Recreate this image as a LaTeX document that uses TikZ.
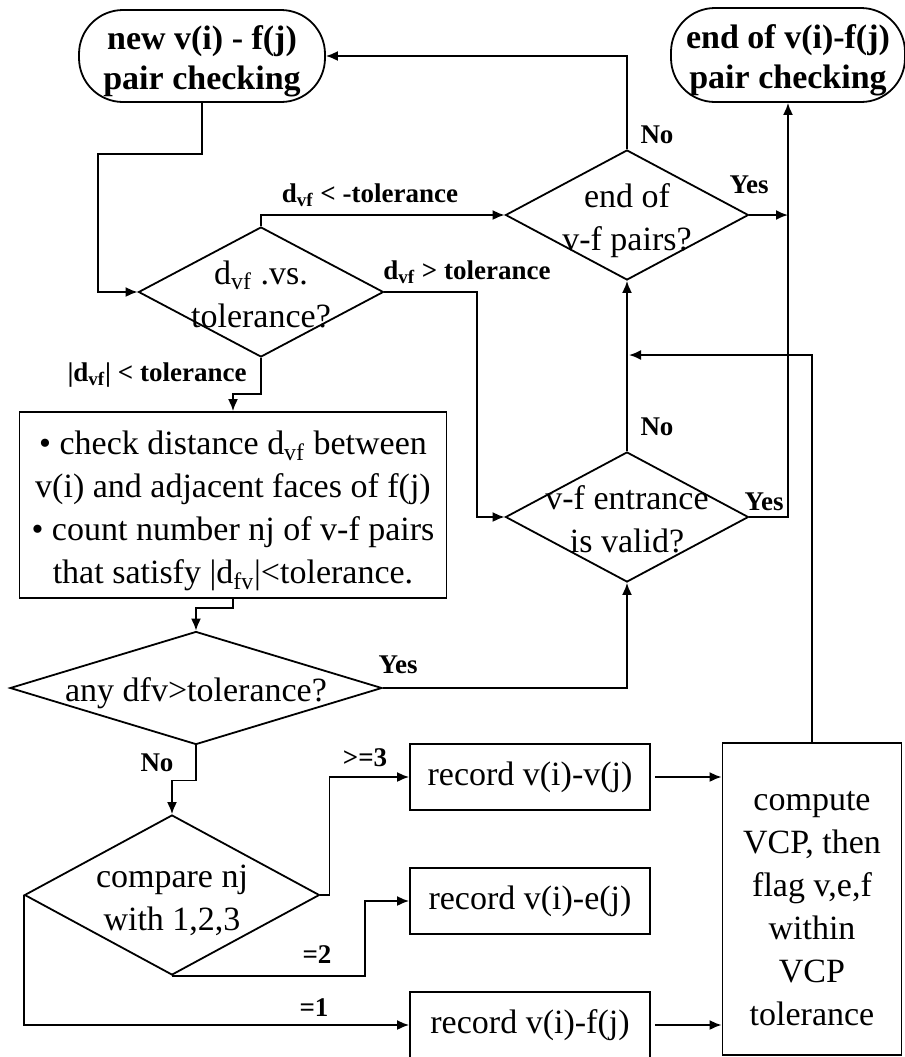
\documentclass[tikz,border=0pt]{standalone}
\usepackage{fontspec}
\setmainfont{Liberation Serif}
\usetikzlibrary{shapes.geometric,arrows.meta}

% text of a diamond, allowed to run over its edges
\newcommand{\dtext}[1]{\raisebox{-7pt}[0pt][0pt]{\makebox[0pt]{\begin{tabular}{@{}c@{}}#1\end{tabular}}}}
% pushes the lines of a box a little down
\newcommand{\lowr}[1]{\rule{0pt}{#1}}

\begin{document}
\begin{tikzpicture}[
    x=0.5pt, y=-0.5pt,
    line width=0.9pt,
    every node/.style={font=\fontsize{17}{21.5}\selectfont},
    term/.style={rectangle, draw, rounded corners=22pt, minimum width=123pt, minimum height=46pt, inner sep=0pt, align=center, font=\fontsize{17}{20}\selectfont\bfseries},
    box/.style={rectangle, draw, inner sep=0pt, align=center},
    dec/.style={diamond, draw, inner sep=0pt},
    lbl/.style={font=\fontsize{13.5}{16}\selectfont\bfseries, inner sep=0pt},
    arrow/.style={-{Latex[length=6pt,width=5pt]}}
]
\useasboundingbox (0,0) rectangle (905,1057);

% Terminals
\node[term] (start) at (202,56) {\lowr{17pt}new v(i) - f(j)\\pair checking};
\node[term, minimum width=117pt, minimum height=47pt] (endterm) at (788,55) {\lowr{17pt}end of v(i)-f(j)\\pair checking};

% Decisions
\node[dec, minimum width=122.5pt, minimum height=65pt] (dvs) at (261,292) {\dtext{d\textsubscript{vf} .vs.\\tolerance?}};
\node[dec, minimum width=121.5pt, minimum height=65pt] (endpairs) at (627,215) {\dtext{end of\\v-f pairs?}};
\node[dec, minimum width=121.5pt, minimum height=65pt] (entrance) at (627,517) {\dtext{v-f entrance\\is valid?}};
\node[dec, minimum width=186pt, minimum height=56.5pt] (any) at (196,688) {\dtext{any dfv>tolerance?}};
\node[dec, minimum width=147.5pt, minimum height=80pt] (compare) at (172,895) {\dtext{compare nj\\with 1,2,3}};

% Boxes
\node[box, minimum width=213.5pt, minimum height=93pt] (check) at (233,505) {\lowr{18pt}\textbullet{} check distance d\textsubscript{vf} between\\v(i) and adjacent faces of f(j)\\\textbullet{} count number nj of v-f pairs\\that satisfy |d\textsubscript{fv}|<tolerance.};
\node[box, minimum width=120pt, minimum height=33pt] (recv) at (530,777) {record v(i)-v(j)};
\node[box, minimum width=120pt, minimum height=33pt] (rece) at (530,901) {record v(i)-e(j)};
\node[box, minimum width=120pt, minimum height=33pt] (recf) at (530,1025) {record v(i)-f(j)};
\node[box, minimum width=89.5pt, minimum height=156pt] (compute) at (812,899) {\lowr{19pt}compute\\VCP, then\\flag v,e,f\\within\\VCP\\tolerance};

\coordinate (loopin) at (629,355);

% Arrows
\draw[arrow] (start.south) -- ++(0,51) -| ([xshift=-20pt]dvs.west) -- (dvs.west);
\draw[arrow] (dvs.north) |- (endpairs.west);
\draw[arrow] (dvs.east) -| ([xshift=-14pt]entrance.west) -- (entrance.west);
\draw[arrow] (dvs.south) -- ++(0,36) -| (check.north);
\draw[arrow] (check.south) -- ++(0,9) -| (any.north);
\draw[arrow] (any.east) -| (entrance.south);
\draw[arrow] (any.south) -- ++(0,35) -| (compare.north);
\draw[arrow] (entrance.north) -- (endpairs.south);
\draw[arrow] (endpairs.north) |- (start.east);
\draw[arrow] (endpairs.east) -- (endpairs.east -| endterm.south);
\draw[arrow] (entrance.east) -| (endterm.south);
\draw[arrow] (compute.north) |- (loopin);
\draw[arrow] (compare.east) -- ++(9,0) |- (recv.west);
\draw[arrow] (compare.south) -| ([xshift=-22pt]rece.west) -- (rece.west);
\draw[arrow] (compare.west) |- (recf.west);
\draw[arrow] ([xshift=2pt]recv.east) -- (recv.east -| compute.west);
\draw[arrow] ([xshift=2pt]recf.east) -- (recf.east -| compute.west);

% Labels
\node[lbl] (ltolneg) at (370,195) {d\textsubscript{vf} < -tolerance};
\node[lbl] (ltolpos) at (467,272) {d\textsubscript{vf} > tolerance};
\node[lbl] (ltolin) at (157,375) {|d\textsubscript{vf}| < tolerance};
\node[lbl] (lno1) at (657,135) {No};
\node[lbl] (lyes1) at (749,185) {Yes};
\node[lbl] (lno2) at (657,427) {No};
\node[lbl] (lyes2) at (764,502) {Yes};
\node[lbl] (lyes3) at (398,665) {Yes};
\node[lbl] (lno3) at (157,763) {No};
\node[lbl] (lge3) at (365,758) {>=3};
\node[lbl] (leq2) at (317,955) {=2};
\node[lbl] (leq1) at (314,1008) {=1};

\end{tikzpicture}
\end{document}
